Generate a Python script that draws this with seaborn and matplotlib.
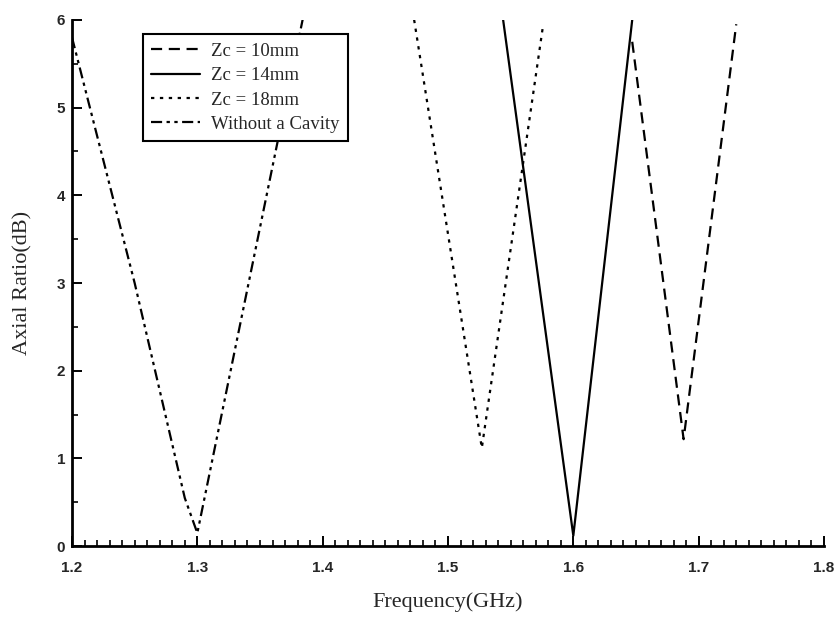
import matplotlib
matplotlib.use("Agg")
import matplotlib.pyplot as plt
from matplotlib.ticker import MultipleLocator
import pandas as pd
import seaborn as sns

# Axial ratio (dB) versus frequency (GHz) for each cavity height
freq_zc10 = [1.647, 1.688, 1.730]
ar_zc10 = [5.75, 1.22, 5.95]

freq_zc14 = [1.544, 1.600, 1.647]
ar_zc14 = [6.0, 0.12, 6.0]

freq_zc18 = [1.473, 1.527, 1.576]
ar_zc18 = [6.0, 1.12, 5.95]

freq_nocav = [1.200, 1.250, 1.290, 1.300, 1.384]
ar_nocav = [5.8, 3.0, 0.55, 0.15, 6.0]

series_names = ["Zc = 10mm", "Zc = 14mm", "Zc = 18mm", "Without a Cavity"]
x_ticks = [1.2, 1.3, 1.4, 1.5, 1.6, 1.7, 1.8]
y_ticks = [0, 1, 2, 3, 4, 5, 6]

frames = []
for name, f, a in zip(series_names,
                      [freq_zc10, freq_zc14, freq_zc18, freq_nocav],
                      [ar_zc10, ar_zc14, ar_zc18, ar_nocav]):
    frames.append(pd.DataFrame({"Frequency": f, "AR": a, "Series": name}))
df = pd.concat(frames, ignore_index=True)

sns.set_theme(style="ticks")
plt.rcParams["font.family"] = ["Liberation Serif", "DejaVu Serif"]

fig = plt.figure(figsize=(8.39, 6.2), dpi=100)
ax = fig.add_axes([0.0858, 0.119, 0.8963, 0.849])

dash_styles = {
    "Zc = 10mm": (5, 3),
    "Zc = 14mm": "",
    "Zc = 18mm": (1.5, 2.5),
    "Without a Cavity": (5, 2, 1.5, 2, 1.5, 2),
}
palette = {n: "black" for n in series_names}

sns.lineplot(data=df, x="Frequency", y="AR", hue="Series", style="Series",
             dashes=dash_styles, palette=palette, hue_order=series_names,
             style_order=series_names, linewidth=1.6, sort=False,
             estimator=None, ax=ax)

ax.set_xlim(1.2, 1.8)
ax.set_ylim(0, 6)
ax.set_xticks(x_ticks)
ax.set_xticklabels([f"{v:.1f}" for v in x_ticks])
ax.set_yticks(y_ticks)
ax.set_yticklabels([str(v) for v in y_ticks])
ax.xaxis.set_minor_locator(MultipleLocator(0.01))
ax.yaxis.set_minor_locator(MultipleLocator(0.5))
ax.tick_params(which="major", direction="in", length=7, width=1.4, color="black")
ax.tick_params(which="minor", direction="in", length=4, width=1.2, color="black")
ax.tick_params(axis="x", which="major", pad=11)
ax.tick_params(axis="y", which="major", pad=5)
for lbl in ax.get_xticklabels() + ax.get_yticklabels():
    lbl.set_family(["Liberation Sans Narrow", "Liberation Sans", "DejaVu Sans"])
    lbl.set_fontweight("bold")
    lbl.set_fontsize(11)

sns.despine(ax=ax)
for side in ["left", "bottom"]:
    ax.spines[side].set_linewidth(2.0)
    ax.spines[side].set_color("black")

ax.set_xlabel("Frequency(GHz)", fontsize=16, labelpad=12)
ax.set_ylabel("Axial Ratio(dB)", fontsize=16, labelpad=17)

leg = ax.legend(loc="upper left", bbox_to_anchor=(0.082, 0.99), frameon=True,
                fancybox=False, edgecolor="black", framealpha=1.0,
                fontsize=13.5, handlelength=2.6, borderpad=0.45,
                labelspacing=0.38, handletextpad=0.6,
                prop={"family": ["Liberation Serif", "DejaVu Serif"],
                      "size": 13.5})
leg.get_frame().set_linewidth(1.5)

fig.savefig("out.png", dpi=100)
